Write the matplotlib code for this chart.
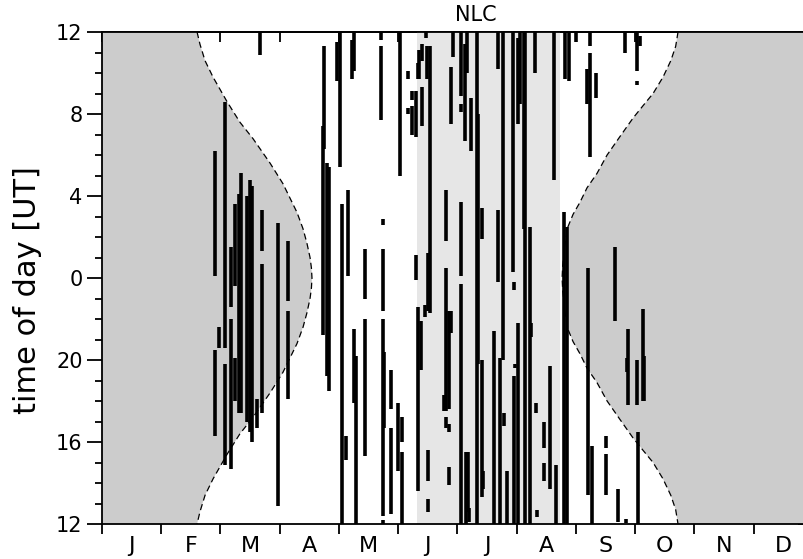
import numpy as np
import matplotlib
matplotlib.use('Agg')
import matplotlib.pyplot as plt

# x = day of year, y = hours after 12 UT (0 -> 12 UT, 12 -> 0 UT, 24 -> 12 UT)
months = ['J', 'F', 'M', 'A', 'M', 'J', 'J', 'A', 'S', 'O', 'N', 'D']
ytick_labels = ['12', '16', '20', '0', '4', '8', '12']

# dashed darkness boundary: half width (hours) around 0 UT
left_day = [48.8, 50.3, 52.9, 57.0, 60.6, 64.2, 70.8, 77.5, 86.3, 92.9, 96.5,
            100.1, 103.2, 105.2, 106.8, 107.5, 107.8]
left_half = [12, 11.4, 10.6, 9.8, 9.2, 8.6, 7.6, 6.8, 5.6, 4.6, 3.9,
             3.2, 2.4, 1.7, 1.0, 0.5, 0]
right_day = [236.2, 236.5, 237.2, 237.7, 239.2, 241.8, 245.4, 249.0, 254.1,
             259.3, 265.9, 272.6, 277.7, 282.9, 288.0, 292.0, 294.5, 295.7]
right_half = [0, 0.6, 1.2, 1.7, 2.5, 3.1, 3.7, 4.4, 5.1,
              6.0, 6.9, 7.8, 8.4, 9.0, 9.8, 10.6, 11.3, 12]

# light grey season band
band_start, band_end = 161.7, 235.1

# NLC observations: day, start, end (hours after 12 UT)
nlc = [
    (58.0, 12.1, 18.2), (60.1, 8.6, 9.6), (58.0, 4.3, 8.5), (63.1, 8.6, 20.6),
    (63.1, 2.9, 7.8), (66.2, 10.6, 13.5), (66.2, 2.7, 10.0), (68.3, 11.6, 15.6),
    (68.3, 6.0, 8.1), (70.3, 5.4, 16.1), (71.4, 5.4, 17.1), (74.5, 5.0, 16.0),
    (75.8, 4.5, 16.8), (77.0, 4.0, 16.5), (79.6, 4.7, 6.1), (82.1, 13.3, 15.3),
    (82.1, 5.4, 12.7), (81.1, 22.9, 24.0), (90.4, 0.9, 14.7), (95.5, 10.9, 13.8),
    (95.5, 6.1, 10.4),
    (114.0, 18.3, 23.3), (113.5, 9.2, 19.4), (115.5, 7.2, 17.6), (116.5, 6.5, 17.4),
    (120.6, 21.6, 23.5), (122.2, 17.4, 24.0), (123.2, 0.0, 15.6), (125.3, 3.1, 4.3),
    (126.3, 12.1, 16.3), (128.4, 21.7, 23.6), (129.4, 22.1, 24.0), (129.4, 5.9, 9.5),
    (130.4, 0.0, 8.2), (135.0, 11.0, 13.4), (135.0, 3.3, 10.0), (143.2, 23.6, 24.0),
    (143.2, 19.7, 23.3), (144.3, 14.6, 14.9), (144.3, 10.4, 13.4), (144.3, 0.4, 10.0),
    (144.8, 4.7, 8.4), (144.3, 0.0, 0.2), (148.4, 5.6, 7.5), (148.4, 0.5, 4.7),
    (153.0, 17.0, 24.0), (152.0, 2.6, 5.9), (154.0, 4.0, 5.2), (154.0, 0.0, 3.5),
    (157.1, 21.7, 22.1), (159.2, 20.7, 21.1), (159.2, 19.0, 20.4), (157.1, 20.0, 20.3),
    (166.3, 23.7, 24.0), (162.7, 21.7, 23.1), (162.0, 21.7, 22.5), (164.3, 22.6, 23.4),
    (166.9, 21.7, 23.3), (168.4, 10.3, 23.3), (164.3, 19.4, 21.3), (161.2, 18.9, 21.1),
    (161.2, 11.9, 13.1), (167.4, 10.4, 13.2), (165.8, 10.1, 10.7), (162.2, 1.6, 10.6),
    (163.8, 7.5, 9.9), (167.4, 2.1, 3.6), (167.4, 0.6, 1.2), (176.6, 13.8, 16.3),
    (176.6, 5.5, 12.5), (175.8, 5.5, 6.3), (176.6, 4.7, 5.2), (178.2, 4.5, 4.9),
    (178.2, 5.6, 10.4), (179.3, 9.3, 10.4), (178.2, 1.9, 2.8), (179.2, 19.5, 22.3),
    (180.0, 22.8, 24.0), (184.3, 20.9, 24.0), (184.3, 20.1, 20.5), (186.4, 18.7, 23.4),
    (184.3, 12.1, 15.7), (184.3, 0.0, 11.7), (186.9, 0.0, 3.5),
    (187.4, 22.0, 24.0), (189.4, 18.2, 20.8), (192.5, 0.0, 24.0), (193.0, 7.8, 20.0),
    (195.1, 13.9, 15.4), (195.1, 1.3, 8.0), (195.6, 1.7, 2.6), (187.9, 0.6, 3.5),
    (188.5, 0.1, 0.8), (203.3, 22.2, 24.0), (203.3, 11.8, 15.3), (201.3, 0.0, 9.4),
    (204.3, 0.0, 8.1), (205.9, 8.0, 24.0), (206.4, 4.8, 5.4), (207.9, 0.0, 2.6),
    (211.0, 12.3, 24.0), (211.5, 11.4, 11.8), (211.5, 0.0, 7.2), (213.6, 19.5, 23.7),
    (213.6, 0.0, 9.8), (212.0, 7.6, 7.8),
    (214.6, 20.5, 24.0), (217.2, 0.0, 24.0), (216.4, 14.4, 24.0), (219.7, 0.0, 14.5),
    (220.2, 9.1, 9.8), (222.3, 22.0, 24.0), (222.8, 5.4, 5.9), (223.3, 0.35, 0.7),
    (226.9, 3.7, 5.0), (227.0, 2.1, 3.0), (230.0, 1.7, 7.7), (232.1, 16.8, 24.0),
    (233.1, 0.0, 2.9),
    (237.5, 21.7, 24.0), (239.5, 21.6, 24.0), (237.2, 0.0, 15.2), (238.8, 0.0, 14.5),
    (243.4, 23.5, 24.0), (250.5, 23.3, 24.0), (250.5, 17.9, 23.0), (249.0, 20.5, 22.2),
    (253.6, 20.8, 22.0), (268.5, 23.0, 24.0), (274.7, 22.1, 24.0), (276.3, 23.3, 23.8),
    (274.7, 21.4, 21.6), (249.5, 1.4, 12.5), (251.6, 0.0, 3.8), (263.4, 9.9, 13.5),
    (270.0, 5.8, 9.5), (269.5, 7.4, 8.1), (274.7, 5.8, 8.0), (277.7, 6.0, 10.5),
    (278.3, 6.0, 8.2), (258.8, 3.7, 4.3), (258.8, 1.4, 3.4), (264.9, 0.1, 1.7),
    (268.8, 0.05, 0.25), (275.2, 0.0, 4.5),
]
nlc_day = [b[0] for b in nlc]
nlc_start = [b[1] for b in nlc]
nlc_end = [b[2] for b in nlc]

plt.rcParams['font.family'] = ['DejaVu Sans']

fig = plt.figure(figsize=(8.04, 5.59), dpi=100)
ax = fig.add_axes([102 / 804, 1 - 524 / 559, 711 / 804, 492 / 559])

ld, lh = np.array(left_day), np.array(left_half)
rd, rh = np.array(right_day), np.array(right_half)

# darkness regions
ax.fill(np.r_[0, ld, ld[::-1], 0], np.r_[24, 12 + lh, (12 - lh)[::-1], 0],
        color='#cccccc', lw=0, zorder=1)
ax.fill(np.r_[365, rd[::-1], rd, 365], np.r_[24, (12 + rh)[::-1], 12 - rh, 0],
        color='#cccccc', lw=0, zorder=1)
ax.axvspan(band_start, band_end, color='#e6e6e6', lw=0, zorder=1)

ax.plot(np.r_[ld, ld[::-1][1:]], np.r_[12 + lh, (12 - lh)[::-1][1:]],
        color='black', lw=0.9, dashes=(5, 3), zorder=2)
ax.plot(np.r_[rd[::-1], rd[1:]], np.r_[(12 + rh)[::-1], (12 - rh)[1:]],
        color='black', lw=0.9, dashes=(5, 3), zorder=2)

ax.vlines(nlc_day, nlc_start, nlc_end, colors='black', lw=2.6,
          capstyle='butt', zorder=3)

ax.set_xlim(0, 365)
ax.set_ylim(0, 24)

edges = np.arange(13) * 365 / 12
centers = edges[:-1] + 365 / 24
ax.set_xticks(edges)
ax.set_xticklabels([])
ax.set_xticks(centers, minor=True)
ax.set_xticklabels(months, minor=True, fontsize=16)
ax.tick_params(axis='x', which='major', direction='out', length=7, width=1.3)
ax.tick_params(axis='x', which='minor', length=0, pad=9)

ax.set_yticks(np.arange(0, 25, 4))
ax.set_yticklabels(ytick_labels, fontsize=15)
ax.set_yticks(np.arange(0, 25, 1), minor=True)
ax.tick_params(axis='y', which='major', direction='out', length=11, width=1.3, pad=3)
ax.tick_params(axis='y', which='minor', direction='out', length=5, width=1.3)

top = ax.secondary_xaxis('top')
top.set_xticks(edges)
top.tick_params(direction='in', length=7, width=1.3, labeltop=False)
right = ax.secondary_yaxis('right')
right.set_yticks(np.arange(0, 25, 4))
right.set_yticks(np.arange(0, 25, 1), minor=True)
right.tick_params(which='major', direction='in', length=11, width=1.3, labelright=False)
right.tick_params(which='minor', direction='in', length=5, width=1.3)

for sp in list(ax.spines.values()) + [top.spines['top'], right.spines['right']]:
    sp.set_linewidth(1.3)

fig.text(476 / 804, 1 - 15 / 559, 'NLC', ha='center', va='center', fontsize=15)
fig.text(28 / 804, 1 - 290 / 559, 'time of day [UT]', rotation=90,
         ha='center', va='center', fontsize=22)

fig.savefig('out.png', dpi=100)
